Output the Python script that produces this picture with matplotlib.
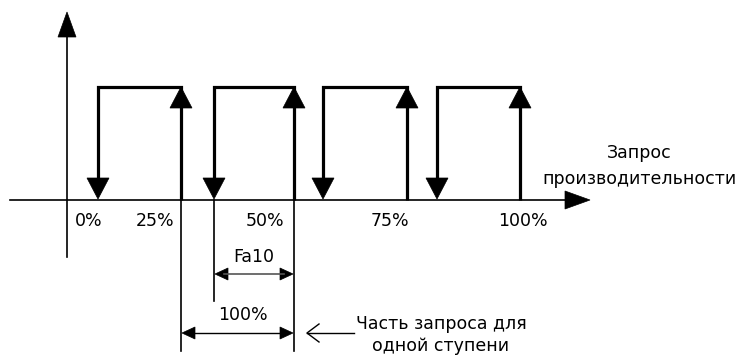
import matplotlib
matplotlib.use("Agg")
import matplotlib.pyplot as plt
from matplotlib.patches import Polygon

# ---- data (diagram units = pixels of the reference) ----
down_x = [98, 214, 323, 437]      # switch-off (down arrows)
up_x = [181, 294, 407, 520]       # switch-on (up arrows)
level_high = 87
level_low = 200
tick_labels = ["0%", "25%", "50%", "75%", "100%"]
tick_pos = [89, 155, 265, 390, 523]
axis_title = "Запрос\nпроизводительности"
fa10_label = "Fa10"
step_label = "100%"
note_label = "Часть запроса для\nодной ступени"

plt.rcParams['font.family'] = ['DejaVu Sans']
FS = 12.5
fig = plt.figure(figsize=(7.41, 3.56), dpi=100)
ax = fig.add_axes([0, 0, 1, 1])
ax.set_xlim(0, 741)
ax.set_ylim(356, 0)
ax.axis('off')


def head(ax, tip, direction, length, half):
    x, y = tip
    if direction == 'up':
        pts = [(x, y), (x - half, y + length), (x + half, y + length)]
    elif direction == 'down':
        pts = [(x, y), (x - half, y - length), (x + half, y - length)]
    elif direction == 'right':
        pts = [(x, y), (x - length, y - half), (x - length, y + half)]
    else:  # left
        pts = [(x, y), (x + length, y - half), (x + length, y + half)]
    ax.add_patch(Polygon(pts, closed=True, facecolor='black', edgecolor='black', lw=0.5))


# axes
ax.plot([67, 67], [257, 30], color='black', lw=1.2)
head(ax, (67, 12), 'up', 25, 9)
ax.plot([10, 570], [level_low, level_low], color='black', lw=1.2)
head(ax, (590, level_low), 'right', 25, 9)

# steps
for xd, xu in zip(down_x, up_x):
    ax.plot([xd, xd, xu, xu], [level_low - 15, level_high, level_high, level_low],
            color='black', lw=2.3, solid_joinstyle='miter', solid_capstyle='butt')
    head(ax, (xd, level_low - 1), 'down', 21, 11)
    head(ax, (xu, level_high), 'up', 21, 11)

# tick labels
for lab, xp in zip(tick_labels, tick_pos):
    ax.text(xp, 221, lab, ha='center', va='center', fontsize=FS)

# axis title
ax.text(639, 166, axis_title, ha='center', va='center', fontsize=FS, linespacing=1.5)

# extension lines
ax.plot([up_x[0], up_x[0]], [level_low, 351], color='black', lw=1.2)
ax.plot([up_x[1], up_x[1]], [level_low, 351], color='black', lw=1.2)
ax.plot([down_x[1], down_x[1]], [level_low, 301], color='black', lw=1.2)

# Fa10 dimension
y1 = 274
ax.plot([down_x[1] + 10, up_x[1] - 10], [y1, y1], color='#555555', lw=1.2)
head(ax, (down_x[1] + 1, y1), 'left', 13, 6)
head(ax, (up_x[1] - 1, y1), 'right', 13, 6)
ax.text((down_x[1] + up_x[1]) / 2, 257, fa10_label, ha='center', va='center', fontsize=FS)

# 100% dimension
y2 = 333
ax.plot([up_x[0] + 10, up_x[1] - 10], [y2, y2], color='black', lw=1.0)
head(ax, (up_x[0] + 1, y2), 'left', 13, 6)
head(ax, (up_x[1] - 1, y2), 'right', 13, 6)
ax.text(243, 315, step_label, ha='center', va='center', fontsize=FS)

# open arrow to note
ax.plot([307, 354], [y2, y2], color='black', lw=1.0)
ax.plot([319, 307, 319], [y2 - 9, y2, y2 + 9], color='black', lw=1.0)
ax.text(441, 335, note_label, ha='center', va='center', fontsize=FS, linespacing=1.35)

fig.savefig('out.png', dpi=100)
